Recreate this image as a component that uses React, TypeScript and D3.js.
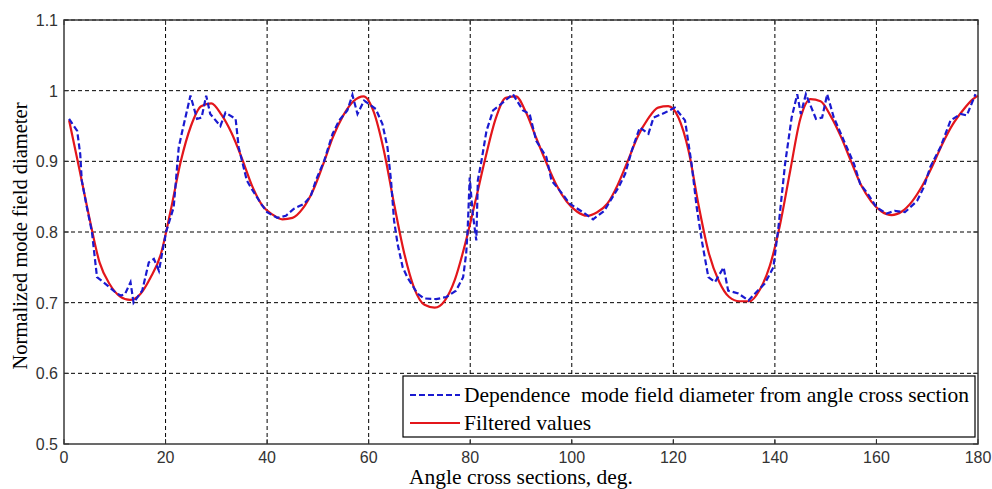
import React, { useEffect } from "react";
import * as d3 from "d3";

const measuredAngles = [
  1, 2.6, 3.2, 3.5, 4.5, 5.5, 6.2, 6.5, 8.1, 10.4, 11.2, 12, 13.1, 13.7, 15.4, 16.7, 17.7, 18.7, 19.3,
  20.1, 21.6, 22.6, 23.3, 24.9, 26.2, 27.1, 28, 28.8, 30.8, 31.8, 33.8, 34.4, 36, 36.8, 38.8, 40, 42,
  43.7, 45.3, 47.3, 48.6, 49.6, 51.2, 52.9, 54.2, 55.8, 56.8, 57.8, 59.1, 61.4, 62.7, 63.7, 64.4, 65,
  65.7, 66.7, 67.6, 69.6, 70.9, 73.3, 75.3, 77.2, 78.6, 79.2, 79.5, 79.9, 80.5, 81.2, 81.5, 82.2, 83.2,
  84.5, 86.4, 88.4, 90.4, 91.7, 93, 95, 96, 97.6, 99.6, 102.2, 104.2, 106.4, 108, 109.2, 110.5, 111.8,
  113.4, 115.1, 116.1, 118.4, 120.3, 122.3, 123.6, 124.6, 125.6, 126.9, 128.2, 129.9, 130.8, 132.8,
  134.8, 136.1, 138, 139.7, 140.7, 142, 143.3, 144.4, 145.1, 146.1, 148.1, 149.3, 150.3, 151.6, 153.6,
  155.6, 156.8, 158.3, 160, 162, 163.6, 165.6, 168, 169.3, 170.6, 172.6, 174.6, 176.6, 177.8, 179.5,
];
const measuredValues = [
  0.96, 0.943, 0.91, 0.873, 0.835, 0.8, 0.755, 0.736, 0.727, 0.713, 0.71, 0.712, 0.729, 0.7, 0.717, 0.757,
  0.762, 0.745, 0.769, 0.8, 0.835, 0.92, 0.943, 0.993, 0.96, 0.962, 0.993, 0.967, 0.95, 0.969, 0.96, 0.92,
  0.873, 0.863, 0.84, 0.828, 0.82, 0.823, 0.833, 0.84, 0.851, 0.873, 0.9, 0.939, 0.958, 0.972, 0.994,
  0.967, 0.986, 0.974, 0.953, 0.92, 0.873, 0.816, 0.783, 0.75, 0.736, 0.713, 0.706, 0.705, 0.708, 0.717,
  0.736, 0.769, 0.804, 0.877, 0.826, 0.788, 0.873, 0.9, 0.943, 0.972, 0.983, 0.995, 0.972, 0.967, 0.929,
  0.906, 0.873, 0.859, 0.84, 0.828, 0.818, 0.83, 0.849, 0.863, 0.882, 0.915, 0.948, 0.939, 0.962, 0.969,
  0.976, 0.958, 0.896, 0.835, 0.788, 0.736, 0.729, 0.75, 0.717, 0.713, 0.703, 0.713, 0.727, 0.75, 0.807,
  0.896, 0.962, 0.995, 0.967, 0.995, 0.96, 0.962, 0.995, 0.962, 0.929, 0.896, 0.868, 0.854, 0.835, 0.826,
  0.83, 0.828, 0.844, 0.863, 0.892, 0.92, 0.958, 0.967, 0.965, 0.995,
];

// red: filtered curve
const filteredAngles = [
  1, 3, 5, 7, 9, 11, 13, 15, 17, 19, 21, 23, 25, 27, 29, 31, 33, 35, 37, 39, 41, 43, 45, 47, 49, 51, 53,
  55, 57, 59, 61, 63, 65, 67, 69, 71, 73, 75, 77, 79, 81, 83, 85, 87, 89, 91, 93, 95, 97, 99, 101, 103,
  105, 107, 109, 111, 113, 115, 117, 119, 121, 123, 125, 127, 129, 131, 133, 135, 137, 139, 141, 143,
  145, 147, 149, 151, 153, 155, 157, 159, 161, 163, 165, 167, 169, 171, 173, 175, 177, 179, 180,
];
const filteredValues = [
  0.958, 0.89, 0.82, 0.757, 0.726, 0.709, 0.704, 0.712, 0.735, 0.767, 0.83, 0.9, 0.95, 0.978, 0.982,
  0.966, 0.94, 0.905, 0.866, 0.838, 0.825, 0.818, 0.82, 0.833, 0.858, 0.895, 0.935, 0.965, 0.985, 0.992,
  0.97, 0.915, 0.84, 0.77, 0.72, 0.697, 0.693, 0.703, 0.733, 0.783, 0.843, 0.905, 0.96, 0.99, 0.992,
  0.969, 0.933, 0.898, 0.866, 0.843, 0.829, 0.823, 0.828, 0.84, 0.866, 0.9, 0.935, 0.96, 0.976, 0.978,
  0.962, 0.915, 0.837, 0.77, 0.73, 0.708, 0.702, 0.702, 0.718, 0.752, 0.81, 0.886, 0.96, 0.988, 0.985,
  0.964, 0.935, 0.9, 0.866, 0.843, 0.829, 0.824, 0.829, 0.843, 0.865, 0.893, 0.925, 0.952, 0.972, 0.988,
  0.993,
];

const xTicks = [0, 20, 40, 60, 80, 100, 120, 140, 160, 180];
const yTicks = [0.5, 0.6, 0.7, 0.8, 0.9, 1, 1.1];
const legendLabels = ["Dependence  mode field diameter from angle cross section", "Filtered values"];

const W = 992;
const H = 489;
const left = 64;
const right = 978;
const top = 20;
const bottom = 444;

export default function App() {
  useEffect(() => {
    document.body.style.margin = "0";
  }, []);

  const x = d3.scaleLinear().domain([0, 180]).range([left, right]);
  const y = d3.scaleLinear().domain([0.5, 1.1]).range([bottom, top]);
  const line = d3
    .line<[number, number]>()
    .x((d) => x(d[0]))
    .y((d) => y(d[1]));
  const smooth = d3
    .line<[number, number]>()
    .x((d) => x(d[0]))
    .y((d) => y(d[1]))
    .curve(d3.curveMonotoneX);

  const measured = measuredAngles.map((a, i) => [a, measuredValues[i]] as [number, number]);
  const filtered = filteredAngles.map((a, i) => [a, filteredValues[i]] as [number, number]);

  const sans = "Arial, 'Liberation Sans', sans-serif";
  const serif = "'Times New Roman', 'Liberation Serif', serif";

  return (
    <svg width={W} height={H} style={{ display: "block", background: "white" }}>
      <rect x={0} y={0} width={W} height={H} fill="white" />
      <g>
        {xTicks.slice(1, -1).map((t) => (
          <line key={"gx" + t} x1={x(t)} x2={x(t)} y1={top} y2={bottom} stroke="black" strokeWidth={1} strokeDasharray="4,3" />
        ))}
        {yTicks.slice(1).map((t) => (
          <line key={"gy" + t} x1={left} x2={right} y1={y(t)} y2={y(t)} stroke="black" strokeWidth={1} strokeDasharray="4,3" />
        ))}
      </g>
      <path d={smooth(filtered) || ""} fill="none" stroke="#e3161b" strokeWidth={2.2} strokeLinejoin="round" />
      <path d={line(measured) || ""} fill="none" stroke="#1a1ad0" strokeWidth={2.2} strokeDasharray="6,3" />
      <rect x={left} y={top} width={right - left} height={bottom - top} fill="none" stroke="#3a3a3a" strokeWidth={1.5} />
      {xTicks.map((t) => (
        <g key={"xt" + t}>
          <line x1={x(t)} x2={x(t)} y1={bottom} y2={bottom - 5} stroke="#333" />
          <line x1={x(t)} x2={x(t)} y1={top} y2={top + 5} stroke="#333" />
          <text x={x(t)} y={463} textAnchor="middle" fontFamily={sans} fontSize={16} fill="#333">
            {t}
          </text>
        </g>
      ))}
      {yTicks.map((t) => (
        <g key={"yt" + t}>
          <line x1={left} x2={left + 5} y1={y(t)} y2={y(t)} stroke="#333" />
          <line x1={right} x2={right - 5} y1={y(t)} y2={y(t)} stroke="#333" />
          <text x={58} y={y(t) + 6} textAnchor="end" fontFamily={sans} fontSize={16} fill="#333">
            {t}
          </text>
        </g>
      ))}
      <text x={(left + right) / 2} y={484} textAnchor="middle" fontFamily={serif} fontSize={21.5} fill="black">
        Angle cross sections, deg.
      </text>
      <text
        transform={`translate(27, ${(top + bottom) / 2 + 4}) rotate(-90)`}
        textAnchor="middle"
        fontFamily={serif}
        fontSize={20.5}
        fill="black"
      >
        Normalized mode field diameter
      </text>
      <g>
        <rect x={403} y={376} width={572} height={61} fill="white" stroke="black" strokeWidth={1.2} />
        <line x1={410} x2={460} y1={395} y2={395} stroke="#1a1ad0" strokeWidth={2.2} strokeDasharray="6,3" />
        <line x1={410} x2={460} y1={423} y2={423} stroke="#e3161b" strokeWidth={2.2} />
        {legendLabels.map((l, i) => (
          <text key={l} x={464} y={402 + i * 28} fontFamily={serif} fontSize={21.5} fill="black" style={{ whiteSpace: "pre" }}>
            {l}
          </text>
        ))}
      </g>
    </svg>
  );
}
